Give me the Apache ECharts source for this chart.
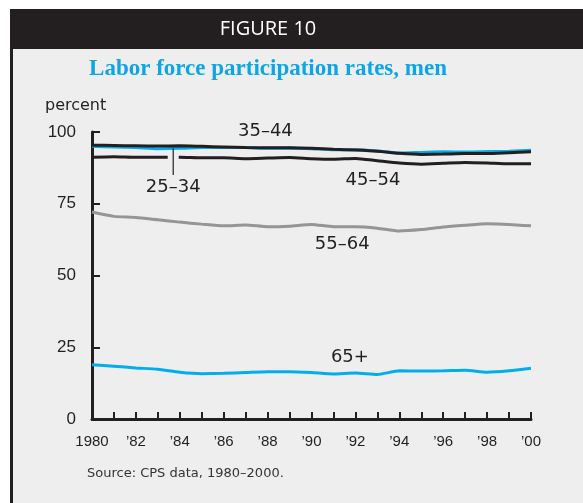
<!DOCTYPE html>
<html>
<head>
<meta charset="utf-8">
<script src="https://cdn.jsdelivr.net/npm/echarts@6/dist/echarts.min.js"></script>
<style>
  html, body { margin: 0; padding: 0; background: #fff; }
  #chart { width: 583px; height: 503px; }
</style>
</head>
<body>
<div id="chart"></div>
<script>
// years 1980-2000
const years = [1980, 1981, 1982, 1983, 1984, 1985, 1986, 1987, 1988, 1989, 1990,
    1991, 1992, 1993, 1994, 1995, 1996, 1997, 1998, 1999, 2000];

const age2534 = [95.0, 94.8, 94.6, 94.2, 94.3, 94.6, 94.6, 94.6, 94.3, 94.4, 94.2,
    93.8, 93.8, 93.4, 92.7, 92.9, 93.1, 93.0, 93.2, 93.3, 93.6];
const age3544 = [95.4, 95.3, 95.2, 95.1, 95.2, 95.0, 94.8, 94.6, 94.5, 94.5, 94.3,
    94.0, 93.7, 93.3, 92.6, 92.2, 92.3, 92.5, 92.5, 92.8, 93.1];
const age4554 = [91.2, 91.4, 91.2, 91.2, 91.2, 91.0, 91.0, 90.7, 90.9, 91.1, 90.7,
    90.5, 90.8, 90.0, 89.2, 88.8, 89.1, 89.4, 89.2, 88.9, 88.9];
const age5564 = [72.1, 70.6, 70.2, 69.4, 68.6, 67.9, 67.3, 67.6, 67.0, 67.2, 67.8,
    67.0, 67.0, 66.5, 65.5, 66.0, 66.9, 67.5, 68.0, 67.8, 67.3];
const age65 = [18.9, 18.4, 17.8, 17.3, 16.3, 15.8, 15.9, 16.2, 16.5, 16.5, 16.2,
    15.7, 16.0, 15.5, 16.8, 16.7, 16.8, 17.0, 16.3, 16.8, 17.7];

const yTicks = [0, 25, 50, 75, 100];

// line labels: [text, year, value]
const lineLabels = [
    ['35–44', 1987.9, 100.4],
    ['25–34', 1983.7, 80.6],
    ['45–54', 1992.8, 83.2],
    ['55–64', 1991.4, 60.9],
    ['65+', 1991.75, 21.6],
];

const BLACK = '#231f20';
const BLUE = '#00aeef';
const GREY = '#939598';
const BG = '#eeeeee';

const chart = echarts.init(document.getElementById('chart'));

const mkSeries = (name, data, color, z) => ({
    name: name,
    type: 'line',
    data: years.map((y, i) => [y, data[i]]),
    showSymbol: false,
    smooth: 0.2,
    z: z,
    lineStyle: { color: color, width: 3 },
    emphasis: { disabled: true },
});

chart.setOption({
    animation: false,
    backgroundColor: '#fff',
    grid: { left: 92, right: 52, top: 132, bottom: 84 },
    xAxis: {
        type: 'value',
        min: 1980,
        max: 2000,
        interval: 1,
        axisLine: { lineStyle: { color: BLACK, width: 3 } },
        axisTick: { inside: true, length: 7, lineStyle: { color: BLACK, width: 2 } },
        splitLine: { show: false },
        axisLabel: {
            margin: 15,
            fontSize: 15,
            color: BLACK,
            fontFamily: 'Liberation Sans',
            formatter: v => v % 2 ? '' : (v === 1980 ? '1980' : '’' + String(v).slice(2)),
        },
    },
    yAxis: {
        type: 'value',
        min: 0,
        max: 100,
        interval: 25,
        axisLine: { show: true, lineStyle: { color: BLACK, width: 3 } },
        axisTick: { show: true, inside: true, length: 8, lineStyle: { color: BLACK, width: 2 } },
        splitLine: { show: false },
        axisLabel: {
            margin: 16,
            fontSize: 17,
            color: BLACK,
            fontFamily: 'Liberation Sans',
            formatter: v => yTicks.indexOf(v) >= 0 ? String(v) : '',
        },
    },
    series: [
        mkSeries('55-64', age5564, GREY, 2),
        mkSeries('65+', age65, BLUE, 2),
        mkSeries('45-54', age4554, BLACK, 2),
        mkSeries('25-34', age2534, BLUE, 3),
        mkSeries('35-44', age3544, BLACK, 4),
    ],
});

// frame, titles and annotations
const px = (x, y) => chart.convertToPixel({ gridIndex: 0 }, [x, y]);
const leadTop = px(1983.7, 94.3);
const leadBot = px(1983.7, 85.0);
const gapAt = px(1983.7, 91.2);

const graphics = [
    { type: 'rect', shape: { x: 10, y: 9, width: 573, height: 494 }, style: { fill: BLACK }, z: -10 },
    { type: 'rect', shape: { x: 13, y: 49, width: 570, height: 454 }, style: { fill: BG }, z: -9 },
    {
        type: 'text', x: 268, y: 29,
        style: { text: 'FIGURE 10', fill: '#fff', font: '20px "Open Sans"', align: 'center', verticalAlign: 'middle' },
    },
    {
        type: 'text', x: 268, y: 69,
        style: { text: 'Labor force participation rates, men', fill: '#0ea5e4', font: 'bold 23px "Liberation Serif"', align: 'center', verticalAlign: 'middle' },
    },
    {
        type: 'text', x: 45, y: 106,
        style: { text: 'percent', fill: BLACK, font: '16px "DejaVu Sans"', align: 'left', verticalAlign: 'middle' },
    },
    {
        type: 'text', x: 87, y: 474,
        style: { text: 'Source: CPS data, 1980–2000.', fill: '#333', font: '13px "DejaVu Sans"', align: 'left', verticalAlign: 'middle' },
    },
    { type: 'rect', shape: { x: gapAt[0] - 5.5, y: gapAt[1] - 4, width: 11, height: 8 }, style: { fill: BG }, z: 100 },
    {
        type: 'line', z: 101,
        shape: { x1: leadTop[0], y1: leadTop[1], x2: leadBot[0], y2: leadBot[1] },
        style: { stroke: BLACK, lineWidth: 1.2 },
    },
];

lineLabels.forEach(l => {
    const p = px(l[1], l[2]);
    graphics.push({
        type: 'text', x: p[0], y: p[1], z: 102,
        style: { text: l[0], fill: BLACK, font: '18px "DejaVu Sans"', align: 'center', verticalAlign: 'middle' },
    });
});

chart.setOption({ graphic: graphics });
</script>
</body>
</html>
